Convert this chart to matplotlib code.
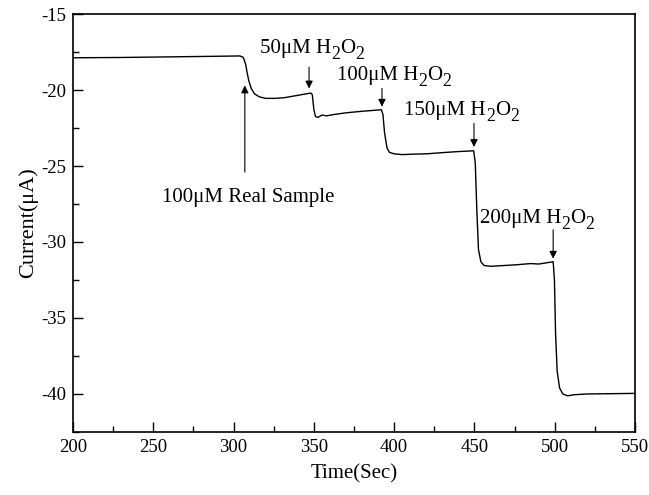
import matplotlib
matplotlib.use("Agg")
import matplotlib.pyplot as plt
from matplotlib.ticker import MultipleLocator

plt.rcParams['font.family'] = ['Liberation Serif', 'DejaVu Serif']
plt.rcParams['axes.unicode_minus'] = False

# amperometric response
time_s = [200, 230, 260, 290, 304, 306, 307.5, 308.5, 309.5, 311, 313, 316, 320, 326,
          332, 340, 348, 349, 350, 351, 352.5, 355, 358, 362, 370, 380, 392,
          393, 394, 395.5, 397, 400, 405, 412, 420, 430, 440, 449.5,
          450.5, 451.5, 452.5, 454, 456, 460, 468, 476, 485, 490, 499,
          499.8, 500.5, 501.5, 503, 505, 508, 512, 520, 535, 550]
current = [-17.88, -17.86, -17.82, -17.78, -17.76, -17.85, -18.3, -18.9, -19.4, -19.9,
           -20.25, -20.45, -20.55, -20.55, -20.5, -20.35, -20.2, -20.3, -21.3, -21.75,
           -21.8, -21.65, -21.7, -21.62, -21.5, -21.4, -21.3,
           -21.6, -22.8, -23.8, -24.1, -24.2, -24.25, -24.22, -24.2, -24.12, -24.05, -24.0,
           -24.8, -28.0, -30.5, -31.3, -31.55, -31.6, -31.55, -31.5, -31.42, -31.45, -31.3,
           -32.5, -36.0, -38.5, -39.6, -40.0, -40.12, -40.05, -40.0, -39.98, -39.96]

# annotations: arrow x, arrow tail y, arrow head y, text centre x, text baseline y
labels = ['100μM Real Sample', '50μM H2O2', '100μM H2O2', '150μM H2O2', '200μM H2O2']
arrow_x = [307, 347, 392.4, 449.7, 499]
arrow_tail = [-25.4, -18.5, -19.9, -22.2, -29.2]
arrow_head = [-19.7, -19.9, -21.1, -23.75, -31.1]
text_x = [309, 349, 400, 442, 489]
text_y = [-27.35, -17.55, -19.35, -21.65, -28.75]

FS = 15


def split_label(lab):
    # "H2O2" -> H, sub 2, O, sub 2
    if lab.endswith('H2O2'):
        head = lab[:-4]
        return [(head + 'H', False), ('2', True), ('O', False), ('2', True)]
    return [(lab, False)]


fig = plt.figure(figsize=(6.49, 4.95), dpi=100)
ax = fig.add_axes([0.1125, 0.1273, 0.866, 0.8444])

ax.plot(time_s, current, color='black', linewidth=1.0)

renderer = fig.canvas.get_renderer()
for lab, axx, y0, y1, tx, ty in zip(labels, arrow_x, arrow_tail, arrow_head, text_x, text_y):
    ax.annotate('', xy=(axx, y1), xytext=(axx, y0),
                arrowprops=dict(arrowstyle='-|>', color='black', lw=0.8,
                                mutation_scale=11, shrinkA=0, shrinkB=0))
    pieces = split_label(lab)
    widths = []
    for s, sub in pieces:
        t = fig.text(0, 0, s, fontsize=FS * 0.85 if sub else FS)
        widths.append(t.get_window_extent(renderer).width * 72 / fig.dpi)
        t.remove()
    xoff = -sum(widths) / 2
    for (s, sub), w in zip(pieces, widths):
        ax.annotate(s, xy=(tx, ty), xytext=(xoff, -FS * 0.28 if sub else 0),
                    textcoords='offset points', ha='left', va='baseline',
                    fontsize=FS * 0.85 if sub else FS)
        xoff += w

ax.set_xlim(200, 550)
ax.set_ylim(-42.5, -15)
ax.xaxis.set_major_locator(MultipleLocator(50))
ax.xaxis.set_minor_locator(MultipleLocator(25))
ax.yaxis.set_major_locator(MultipleLocator(5))
ax.yaxis.set_minor_locator(MultipleLocator(2.5))
ax.tick_params(which='both', direction='in', top=False, right=False, labelsize=13.5)
ax.tick_params(which='major', length=7, width=1, pad=5)
ax.tick_params(which='minor', length=4, width=1)
for sp in ax.spines.values():
    sp.set_linewidth(1.2)

ax.set_xlabel('Time(Sec)', fontsize=15, labelpad=6)
ax.set_ylabel('Current(μA)', fontsize=16, labelpad=2)

fig.savefig('out.png', dpi=100)
